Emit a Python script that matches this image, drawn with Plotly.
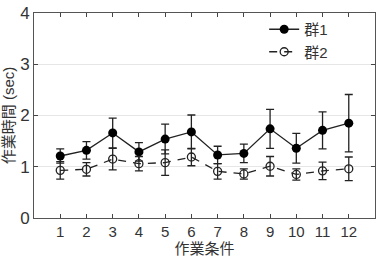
import plotly.graph_objects as go

conditions = list(range(1, 13))
g1_mean = [1.21, 1.32, 1.66, 1.29, 1.54, 1.68, 1.23, 1.26, 1.74, 1.36, 1.71, 1.85]
g1_err = [0.14, 0.17, 0.29, 0.18, 0.29, 0.33, 0.17, 0.18, 0.38, 0.29, 0.36, 0.56]
g2_mean = [0.93, 0.95, 1.15, 1.06, 1.08, 1.19, 0.91, 0.86, 1.01, 0.85, 0.92, 0.96]
g2_err = [0.17, 0.13, 0.21, 0.14, 0.25, 0.17, 0.15, 0.10, 0.19, 0.11, 0.17, 0.23]
y_ticks = [0, 1, 2, 3, 4]

FONT = "Liberation Sans, Arial, Noto Sans CJK JP, sans-serif"

fig = go.Figure()
fig.add_trace(go.Scatter(
    x=conditions, y=g1_mean, name="群1", mode="lines+markers",
    line=dict(color="#222", width=1.3),
    marker=dict(symbol="circle", size=9, color="black"),
    error_y=dict(type="data", array=g1_err, visible=True, color="#222", thickness=1.3, width=4),
))
fig.add_trace(go.Scatter(
    x=conditions, y=g2_mean, name="群2", mode="lines+markers",
    line=dict(color="#222", width=1.3, dash="8px,7px"),
    marker=dict(symbol="circle-open", size=8, color="#222", line=dict(width=1.3)),
    error_y=dict(type="data", array=g2_err, visible=True, color="#222", thickness=1.3, width=4),
))

fig.update_layout(
    width=380, height=258,
    margin=dict(l=34, r=4, t=10, b=40),
    plot_bgcolor="white", paper_bgcolor="white",
    font=dict(family=FONT, size=15, color="#333"),
    showlegend=True,
    legend=dict(x=0.675, y=1.0, xanchor="left", yanchor="top",
                bgcolor="rgba(0,0,0,0)", font=dict(size=15), tracegroupgap=0),
    xaxis=dict(range=[0, 13], tickvals=conditions, ticks="inside", ticklen=4,
               showline=True, linecolor="#555", linewidth=1, mirror="ticks",
               showgrid=False, zeroline=False,
               title=dict(text="作業条件", font=dict(size=15), standoff=2),
               tickfont=dict(size=15)),
    yaxis=dict(range=[0, 4], tickvals=y_ticks, ticks="inside", ticklen=4,
               showline=True, linecolor="#555", linewidth=1, mirror="ticks",
               showgrid=True, gridcolor="#e6e6e6", gridwidth=1, zeroline=False,
               title=dict(text="作業時間 (sec)", font=dict(size=15), standoff=4),
               tickfont=dict(size=17)),
)

fig.write_html("out.html")
